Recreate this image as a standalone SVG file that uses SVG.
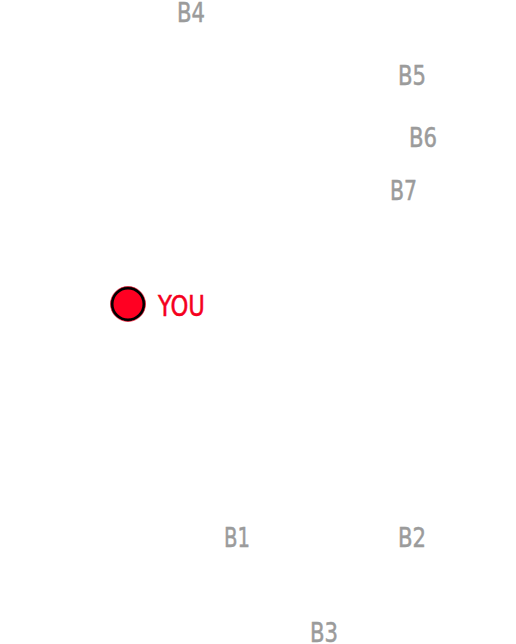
<svg xmlns="http://www.w3.org/2000/svg" width="516" height="644" viewBox="0 0 516 644">
<style>
.b{font-family:"DejaVu Sans Condensed","DejaVu Sans",sans-serif;font-size:27px;fill:#9b9b9b;stroke:#9b9b9b;stroke-width:0.5}
.you{font-family:"DejaVu Sans Condensed","DejaVu Sans",sans-serif;font-size:28px;fill:#f5001e;stroke:#f5001e;stroke-width:0.5}
</style>
<rect width="516" height="644" fill="#ffffff"/>
<g id="B4"><text class="b" x="177" y="22" textLength="28" lengthAdjust="spacingAndGlyphs">B4</text></g>
<g id="B5"><text class="b" x="398" y="85" textLength="28" lengthAdjust="spacingAndGlyphs">B5</text></g>
<g id="B6"><text class="b" x="409" y="147" textLength="28" lengthAdjust="spacingAndGlyphs">B6</text></g>
<g id="B7"><text class="b" x="390" y="200" textLength="27" lengthAdjust="spacingAndGlyphs">B7</text></g>
<g id="YOU">
<circle cx="128" cy="304" r="16" fill="#ff0022" stroke="#000" stroke-width="3"/>
<circle cx="128" cy="304" r="17.5" fill="none" stroke="#ff0022" stroke-width="1" opacity="0.6"/>
<text class="you" x="158" y="316" textLength="47" lengthAdjust="spacingAndGlyphs">YOU</text>
</g>
<g id="B1"><text class="b" x="224" y="547" textLength="26" lengthAdjust="spacingAndGlyphs">B1</text></g>
<g id="B2"><text class="b" x="398" y="547" textLength="28" lengthAdjust="spacingAndGlyphs">B2</text></g>
<g id="B3"><text class="b" x="310" y="642" textLength="28" lengthAdjust="spacingAndGlyphs">B3</text></g>
<g id="connectors"></g>
</svg>
